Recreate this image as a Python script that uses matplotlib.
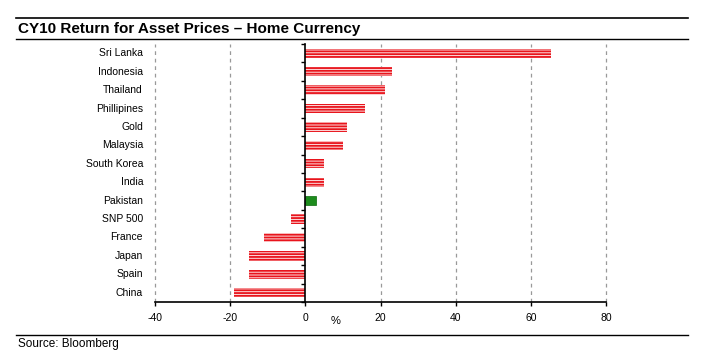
import matplotlib
matplotlib.use("Agg")
import matplotlib.pyplot as plt
import matplotlib.transforms as mtransforms
import numpy as np

plt.rcParams['font.family'] = ['Liberation Sans', 'DejaVu Sans']
plt.rcParams['hatch.linewidth'] = 1.3
plt.rcParams['axes.unicode_minus'] = False

# data (CY10 return, %)
labels = ["Sri Lanka", "Indonesia", "Thailand", "Phillipines", "Gold", "Malaysia",
          "South Korea", "India", "Pakistan", "SNP 500", "France", "Japan", "Spain", "China"]
returns = [65.3, 23.1, 21.1, 16.0, 11.1, 10.1, 4.9, 5.0, 2.9, -3.9, -11.1, -15.1, -15.1, -19.1]
highlight = "Pakistan"

fig = plt.figure(figsize=(7.05, 3.51), dpi=100)
ax = fig.add_axes([155 / 705, 1 - 302 / 351, 451 / 705, 258 / 351])

y = np.arange(len(labels))
for yi, lab, v in zip(y, labels, returns):
    if lab == highlight:
        ax.barh(yi, v, height=0.5, color='#1d8c1d', edgecolor='#0a6a0a', linewidth=0.5, zorder=3)
    else:
        ax.barh(yi, v, height=0.5, color='#fde0e0', edgecolor='#e8141c', hatch='------',
                linewidth=0, zorder=3)

ax.set_xlim(-40, 80)
ax.set_ylim(len(labels) - 0.5, -0.5)

# grid
for gx in [-40, -20, 20, 40, 60, 80]:
    ax.axvline(gx, color='#999999', linestyle=(0, (3, 3)), linewidth=0.9, zorder=1, clip_on=False)

# spines
for s in ['top', 'right']:
    ax.spines[s].set_visible(False)
ax.spines['left'].set_position(('data', 0))
ax.spines['left'].set_linewidth(1.2)
ax.spines['left'].set_zorder(4)
ax.spines['bottom'].set_linewidth(1.2)

ax.set_yticks(np.arange(len(labels) + 1) - 0.5)
ax.set_yticklabels([])
ax.tick_params(axis='y', direction='out', length=3, width=1.0)

ax.set_xticks([-40, -20, 0, 20, 40, 60, 80])
ax.tick_params(axis='x', direction='out', length=3, width=1.0, labelsize=7.5, pad=5)

trans = mtransforms.blended_transform_factory(ax.transAxes, ax.transData)
for yi, lab in zip(y, labels):
    ax.text(-12 / 451, yi, lab, transform=trans, ha='right', va='center', fontsize=7.5)

ax.text(8, -0.055, "%", transform=mtransforms.blended_transform_factory(ax.transData, ax.transAxes),
        ha='center', va='top', fontsize=8)

# header / footer
fig.add_artist(plt.Line2D([16 / 705, 688 / 705], [1 - 18 / 351, 1 - 18 / 351], color='black', linewidth=1.2))
fig.add_artist(plt.Line2D([16 / 705, 688 / 705], [1 - 39 / 351, 1 - 39 / 351], color='black', linewidth=1.0))
fig.add_artist(plt.Line2D([16 / 705, 688 / 705], [1 - 335 / 351, 1 - 335 / 351], color='black', linewidth=1.0))
fig.text(18 / 705, 1 - 28.5 / 351, "CY10 Return for Asset Prices \u2013 Home Currency",
         fontsize=11, fontweight='bold', ha='left', va='center')
fig.text(18 / 705, 1 - 344 / 351, "Source: Bloomberg", fontsize=8.5, ha='left', va='center')

fig.savefig("out.png", dpi=100)
